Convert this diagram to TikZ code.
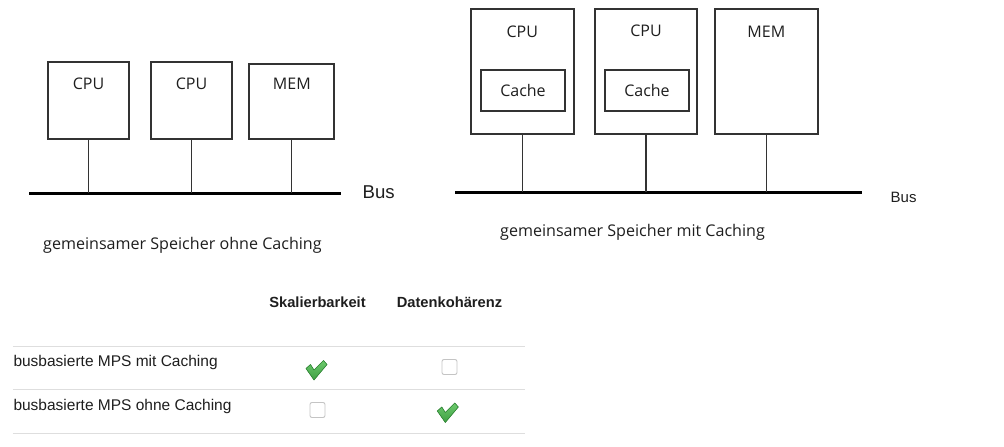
\documentclass[tikz,border=0pt]{standalone}
\usepackage{fontspec}
\setmainfont{Open Sans}
\newfontfamily\tabfont{Liberation Sans}
\usetikzlibrary{calc}
\definecolor{boxline}{HTML}{333333}
\definecolor{txt}{HTML}{1E1E1E}
\definecolor{rule}{HTML}{DEDEDE}
\definecolor{cbline}{HTML}{C4C4C4}
\definecolor{chkTop}{HTML}{6CC96C}
\definecolor{chkBot}{HTML}{3FA044}
\definecolor{chkEdge}{HTML}{2F8A36}
\tikzset{
  unitbox/.style={draw=boxline, line width=1.2pt, minimum width=#1, inner sep=0pt},
  lbl/.style={anchor=base, inner sep=0pt, text=txt, font=\fontsize{16}{19}\selectfont},
  capt/.style={anchor=base west, inner sep=0pt, text=txt, font=\fontsize{16.1}{19}\selectfont},
  busline/.style={line width=3pt, black},
  stem/.style={draw=boxline, line width=1.2pt},
  tabhead/.style={anchor=base, inner sep=0pt, text=txt, font=\tabfont\bfseries\fontsize{14.7}{18}\selectfont},
  tabrow/.style={anchor=base west, inner sep=0pt, text=txt, font=\tabfont\fontsize{15.5}{18}\selectfont},
  tabrule/.style={draw=rule, line width=1pt},
  cbox/.style={draw=cbline, line width=0.9pt, rounded corners=2pt, minimum width=15pt, minimum height=15pt, inner sep=0pt, fill=white},
  chk/.pic={
    \filldraw[draw=chkEdge, line width=0.6pt, top color=chkTop, bottom color=chkBot]
      (0,8) -- (4.5,4) -- (8,9.5) -- (17.5,0) -- (21,4) -- (8,19.5) -- cycle;
  }
}
\begin{document}
\begin{tikzpicture}[x=1pt, y=-1pt]
\useasboundingbox (0,0) rectangle (1004,447);

% ---------- left diagram ----------
\node[unitbox=81pt, minimum height=77pt] (L1) at (88.5,100.5) {};
\node[unitbox=81pt, minimum height=77pt] (L2) at (191.5,100.5) {};
\node[unitbox=85pt, minimum height=75pt] (L3) at (291.5,101.5) {};
\node[lbl] (L1t) at (88.5,89) {CPU};
\node[lbl] (L2t) at (191.5,89) {CPU};
\node[lbl] (L3t) at (291.8,89.5) {MEM};
\coordinate (LbusA) at (29,193);
\coordinate (LbusB) at (341,193);
\draw[busline] (LbusA) -- (LbusB);
\draw[stem] (L1.south) -- (L1.south |- LbusA);
\draw[stem] (L2.south) -- (L2.south |- LbusA);
\draw[stem] (L3.south) -- (L3.south |- LbusA);
\node[anchor=base west, inner sep=0pt, text=txt, font=\tabfont\fontsize{18.6}{20}\selectfont] (Lbus) at (362.5,198.3) {Bus};
\node[capt] (Lcap) at (43,249) {gemeinsamer Speicher ohne Caching};

% ---------- right diagram ----------
\node[unitbox=103pt, minimum height=125pt] (R1) at (522.5,71.5) {};
\node[unitbox=102pt, minimum height=125pt] (R2) at (646,71.5) {};
\node[unitbox=103pt, minimum height=125pt] (R3) at (766.5,71.5) {};
\node[unitbox=84pt, minimum height=41pt] (C1) at (523,90.5) {};
\node[unitbox=84pt, minimum height=41pt] (C2) at (647,90.5) {};
\node[lbl] (R1t) at (522.3,37) {CPU};
\node[lbl] (R2t) at (646,36.5) {CPU};
\node[lbl] (R3t) at (766.3,37) {MEM};
\node[lbl] (C1t) at (523,96.8) {Cache};
\node[lbl] (C2t) at (647,96.8) {Cache};
\coordinate (RbusA) at (455,192);
\coordinate (RbusB) at (862,192);
\draw[busline] (RbusA) -- (RbusB);
\draw[stem] (R1.south) -- (R1.south |- RbusA);
\draw[stem] (R2.south) -- (R2.south |- RbusA);
\draw[stem] (R3.south) -- (R3.south |- RbusA);
\node[anchor=base west, inner sep=0pt, text=txt, font=\tabfont\fontsize{15}{18}\selectfont] (Rbus) at (890.5,202.7) {Bus};
\node[capt] (Rcap) at (500,236) {gemeinsamer Speicher mit Caching};

% ---------- table ----------
\node[tabhead] (H1) at (317.5,307) {Skalierbarkeit};
\node[tabhead] (H2) at (449.5,307) {Datenkohärenz};
\coordinate (r1a) at (12.7,346.7); \coordinate (r1b) at (525,346.7);
\coordinate (r2a) at (12.7,389.3); \coordinate (r2b) at (525,389.3);
\coordinate (r3a) at (12.7,433.3); \coordinate (r3b) at (525,433.3);
\draw[tabrule] (r1a) -- (r1b);
\draw[tabrule] (r2a) -- (r2b);
\draw[tabrule] (r3a) -- (r3b);
\node[tabrow] (T1) at (13.3,366.3) {busbasierte MPS mit Caching};
\node[tabrow] (T2) at (13.3,410) {busbasierte MPS ohne Caching};
\pic (K1) at (306,360.5) {chk};
\node[cbox] (B1) at (449.5,367) {};
\node[cbox] (B2) at (317.5,410) {};
\pic (K2) at (437.3,403) {chk};
\end{tikzpicture}
\end{document}
